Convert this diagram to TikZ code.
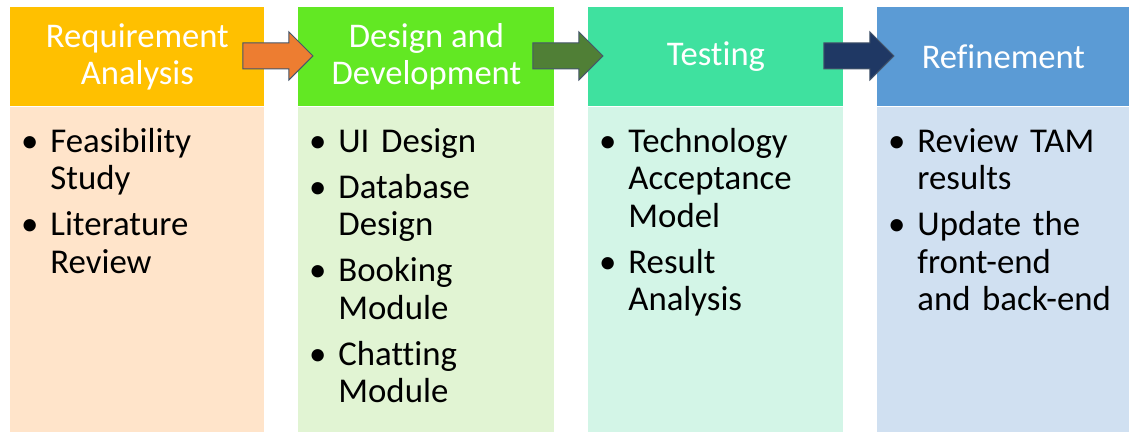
\documentclass[tikz,border=0pt]{standalone}
\usepackage{fontspec}
\setmainfont{Carlito}[Ligatures=CommonOff]
\usetikzlibrary{shapes.arrows,calc}
\definecolor{reqhead}{HTML}{FFC000}
\definecolor{reqbody}{HTML}{FFE4CA}
\definecolor{deshead}{HTML}{62E823}
\definecolor{desbody}{HTML}{E1F4D3}
\definecolor{tsthead}{HTML}{3FE19F}
\definecolor{tstbody}{HTML}{D3F5E7}
\definecolor{refhead}{HTML}{5B9BD5}
\definecolor{refbody}{HTML}{D0E0F1}
\definecolor{arrone}{HTML}{ED7D31}
\definecolor{arrtwo}{HTML}{507F36}
\definecolor{arrthree}{HTML}{1F3864}
\definecolor{arrline}{HTML}{45566B}
\newenvironment{bul}{\begin{list}{\textbullet}{\setlength{\leftmargin}{20pt}\setlength{\labelsep}{6pt}\setlength{\labelwidth}{10pt}\setlength{\itemsep}{4.25pt}\setlength{\parsep}{0pt}\setlength{\topsep}{0pt}\setlength{\partopsep}{0pt}}\raggedright\hyphenpenalty=10000 \exhyphenpenalty=10000 }{\end{list}}
\tikzset{hd/.append style={anchor=north west, minimum height=49.5pt, inner sep=0pt, text=white, align=center, font=\fontsize{17.3}{18.5}\selectfont}}
\tikzset{bd/.append style={anchor=north west, minimum height=163pt, inner sep=0pt}}
\tikzset{lst/.append style={anchor=base west, text width=122pt, inner sep=0pt, font=\fontsize{17.4}{18.75}\selectfont}}
\tikzset{blk/.append style={single arrow, draw=arrline, line width=0.5pt, minimum height=35pt, text height=0pt, text depth=0pt, inner xsep=0pt, inner ysep=6.25pt, single arrow head extend=5.5pt, single arrow head indent=0pt}}

\begin{document}
\begin{tikzpicture}[x=0.5pt,y=-0.5pt]
                \useasboundingbox (0,0) rectangle (1129,432);
                % headers
                \node[hd,fill=reqhead,minimum width=127pt] (req) at (10,7) {Requirement\\Analysis};
                \node[hd,fill=deshead,minimum width=128pt] (des) at (298,7) {Design and\\Development};
                \node[hd,fill=tsthead,minimum width=127.5pt] (tst) at (588,7) {Testing};
                \node[hd,fill=refhead,minimum width=126pt] (ref) at (877,7) {Refinement};
                % bodies
                \node[bd,fill=reqbody,minimum width=127pt] (reqb) at (req.south west) {};
                \node[bd,fill=desbody,minimum width=128pt] (desb) at (des.south west) {};
                \node[bd,fill=tstbody,minimum width=127.5pt] (tstb) at (tst.south west) {};
                \node[bd,fill=refbody,minimum width=126pt] (refb) at (ref.south west) {};
                % lists
                \node[lst] (reql) at (10,115) {\begin{bul}\item Feasibility Study \item Literature Review\end{bul}};
                \node[lst] (desl) at (298,115) {\begin{bul}\item UI Design \item Database Design \item Booking Module \item Chatting Module\end{bul}};
                \node[lst] (tstl) at (588,115) {\begin{bul}\item Technology Acceptance Model \item Result Analysis\end{bul}};
                \node[lst] (refl) at (877,115) {\begin{bul}\item Review TAM results \item Update the front-end\newline and back-end\end{bul}};
                % arrows
                \node[blk,fill=arrone] (a1) at ($(req.east)!0.5!(des.west)+(-10,-1)$) {};
                \node[blk,fill=arrtwo] (a2) at ($(des.east)!0.5!(tst.west)+(-10,-1)$) {};
                \node[blk,fill=arrthree] (a3) at ($(tst.east)!0.5!(ref.west)+(-8,-1)$) {};
            \end{tikzpicture}
\end{document}
